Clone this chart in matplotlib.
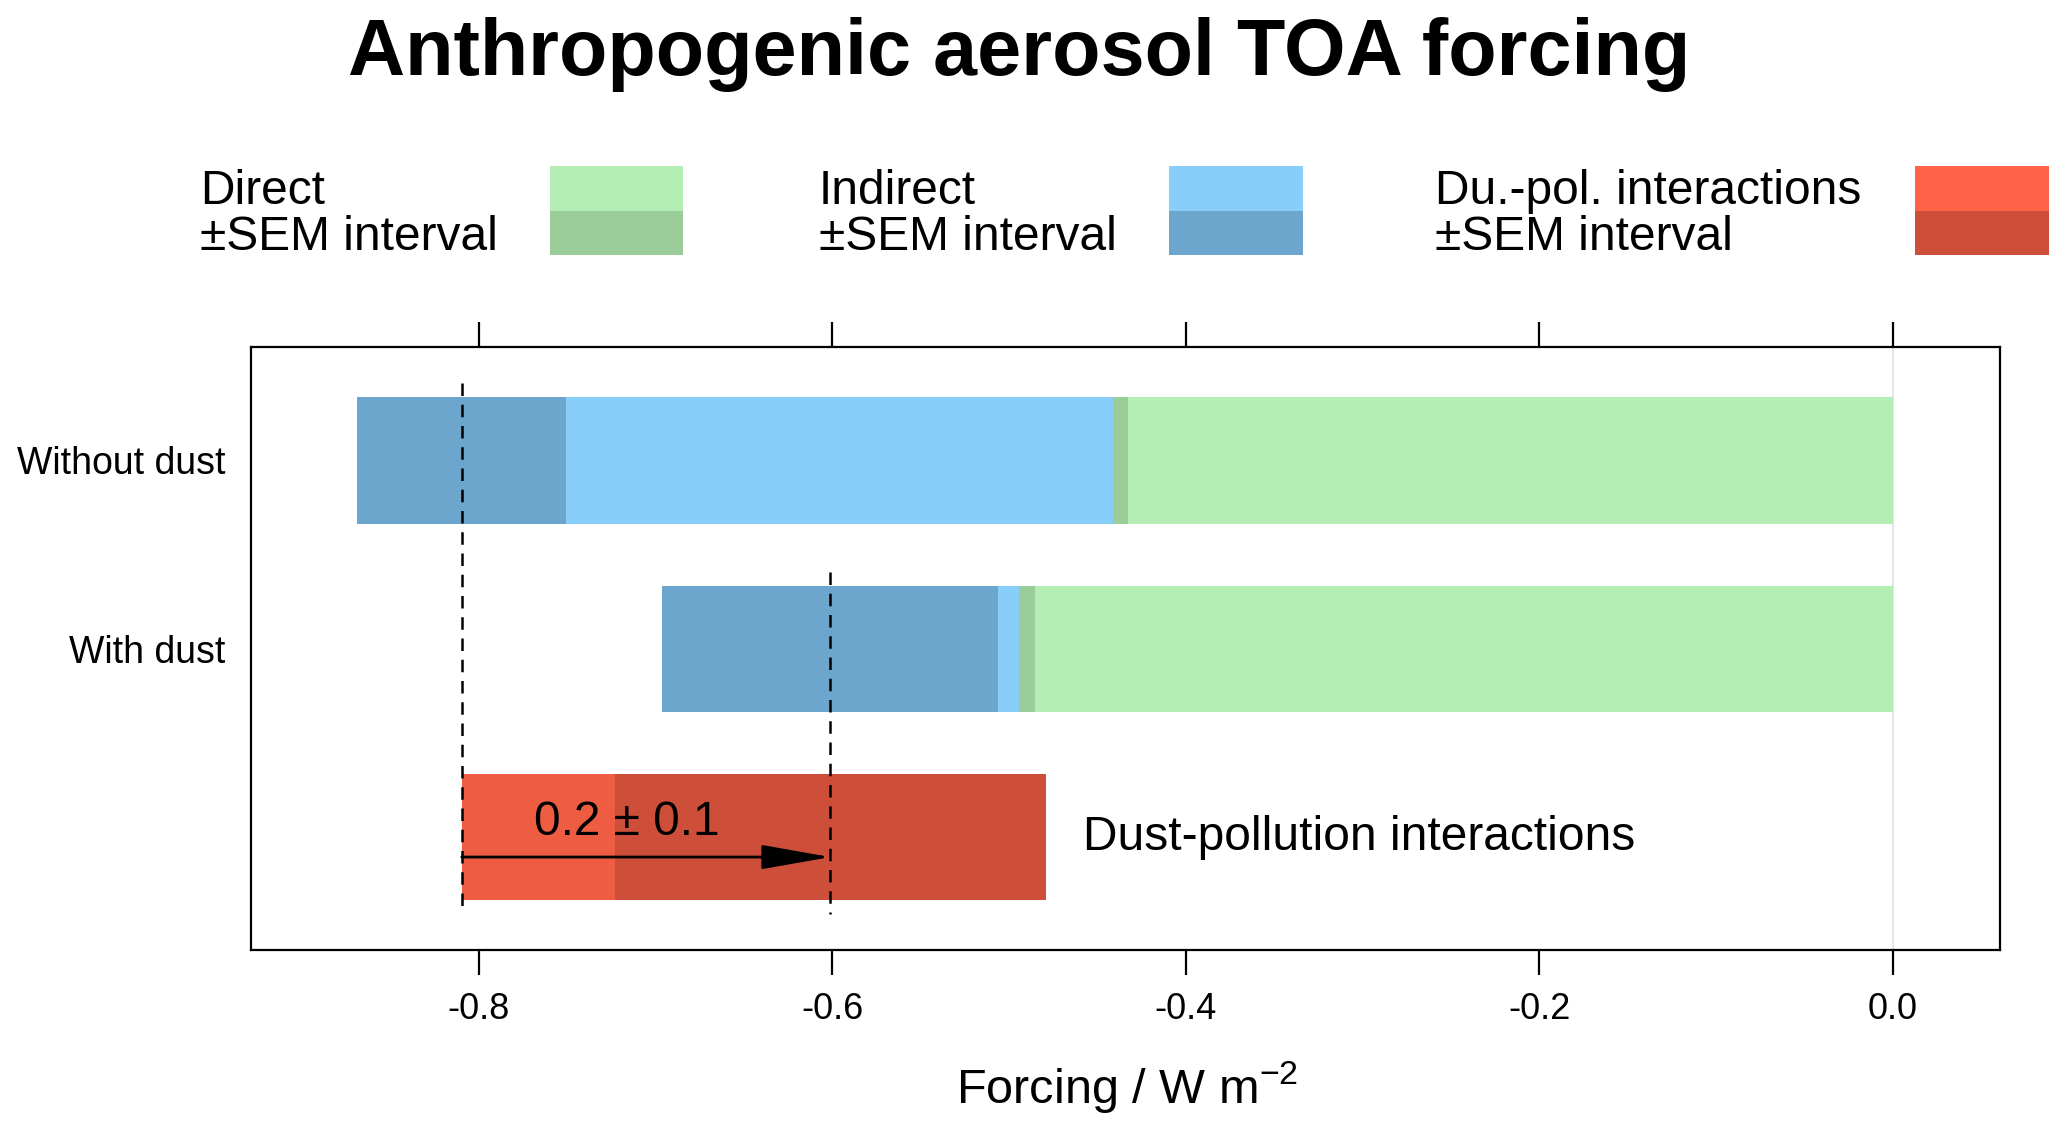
import matplotlib
matplotlib.use("Agg")
import matplotlib.pyplot as plt
from matplotlib.patches import Rectangle

plt.rcParams['font.family'] = ['Liberation Sans', 'DejaVu Sans']
plt.rcParams['mathtext.fontset'] = 'custom'
plt.rcParams['mathtext.rm'] = 'Liberation Sans'
plt.rcParams['mathtext.default'] = 'regular'

# values (W m-2)
groups = ["Without dust", "With dust"]
direct = [-0.437, -0.490]
direct_sem = [0.0041, 0.0045]
total = [-0.8095, -0.601]
total_sem = [0.059, 0.095]
interact_sem = 0.122
interact_label = "0.2 \u00b1 0.1"
xticks = [-0.8, -0.6, -0.4, -0.2, 0.0]

green, green_dk = "#B4EEB4", "#9BCD9B"
blue, blue_dk = "#87CEFA", "#6CA6CD"
red, red_dk = "#EE5C42", "#CD4F39"
red_leg = "#FF6347"

fig = plt.figure(figsize=(20.67, 11.30), dpi=100)
ax = fig.add_axes([0.1212, 0.1590, 0.8463, 0.5336])

ax.axvline(0, color="#E6E6E6", lw=1.5, zorder=0)

h = 0.67
ypos = [3, 2]
for y, d, ds, t, ts in zip(ypos, direct, direct_sem, total, total_sem):
    ax.barh(y, d, height=h, color=green, zorder=1)
    ax.barh(y, t - d, left=d, height=h, color=blue, zorder=1)
    ax.barh(y, 2 * ds, left=d - ds, height=h, color=green_dk, zorder=2)
    ax.barh(y, 2 * ts, left=t - ts, height=h, color=blue_dk, zorder=2)

# dust-pollution interaction bar
ax.barh(1, total[1] - total[0], left=total[0], height=h, color=red, zorder=1)
ax.barh(1, 2 * interact_sem, left=total[1] - interact_sem, height=h,
        color=red_dk, zorder=2)

# dashed lines at the totals
for y, t in zip(ypos, total):
    ax.plot([t, t], [y + 0.41, 0.594], color="black", lw=1.8,
            linestyle=(0, (5, 3.5)), zorder=3)

ax.annotate("", xy=(total[1], 0.895), xytext=(total[0], 0.895),
            arrowprops=dict(arrowstyle="-|>,head_length=2.15,head_width=0.38",
                            mutation_scale=20, color="black", lw=2.0,
                            shrinkA=0, shrinkB=0), zorder=4)
ax.text(-0.716, 1.014, interact_label, fontsize=34.5, ha="center",
        va="baseline", zorder=5)
ax.text(-0.458, 1.0, "Dust-pollution interactions", fontsize=34.5,
        ha="left", va="center")

ax.set_xlim(-0.929, 0.0604)
ax.set_ylim(0.4, 3.6)
ax.set_xticks(xticks)
ax.set_xticklabels([f"{v:.1f}" for v in xticks])
ax.set_yticks(ypos)
ax.set_yticklabels(groups)
ax.tick_params(axis="x", direction="out", length=18, width=1.6,
               labelsize=26, pad=12, top=True, bottom=True)
ax.tick_params(axis="y", length=0, labelsize=27, pad=18)
for s in ax.spines.values():
    s.set_linewidth(1.6)

fig.text(0.5455, 0.024, "Forcing / W m$^{-2}$", fontsize=35, ha="center",
         va="baseline")

fig.text(0.493, 0.9336, "Anthropogenic aerosol TOA forcing", fontsize=57,
         fontweight="bold", ha="center", va="baseline")

# legend
leg_items = [("Direct", green, green_dk, 0.0969, 0.2661),
             ("Indirect", blue, blue_dk, 0.396, 0.5657),
             ("Du.-pol. interactions", red_leg, red_dk, 0.6944, 0.9266)]
for name, c1, c2, tx, bx in leg_items:
    fig.text(tx, 0.8195, name, fontsize=34.5, va="baseline", ha="left")
    fig.text(tx, 0.7788, "\u00b1SEM interval", fontsize=34.5, va="baseline",
             ha="left")
    fig.add_artist(Rectangle((bx, 0.8135), 0.0645, 0.0399,
                             transform=fig.transFigure, color=c1, lw=0))
    fig.add_artist(Rectangle((bx, 0.7743), 0.0645, 0.0392,
                             transform=fig.transFigure, color=c2, lw=0))

fig.savefig("out.png", dpi=100)
